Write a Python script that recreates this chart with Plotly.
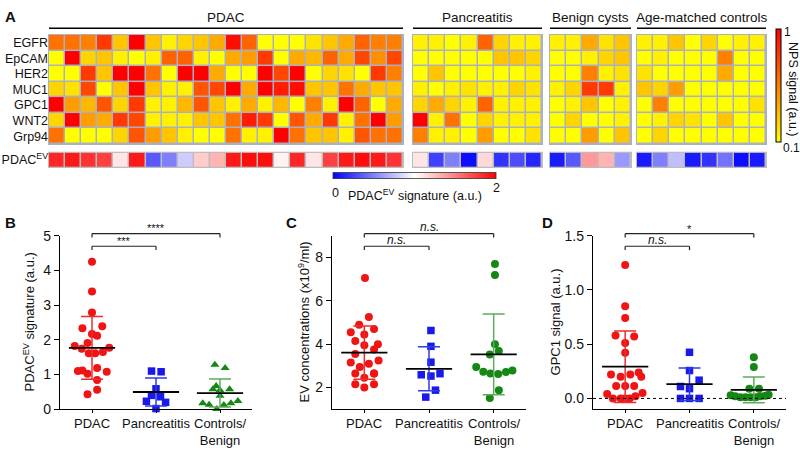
import numpy as np
import plotly.graph_objects as go

W, H = 800, 452
FONT = "Liberation Sans, Arial, sans-serif"

# ---------------- data ----------------
markers = ["EGFR", "EpCAM", "HER2", "MUC1", "GPC1", "WNT2", "Grp94"]
group_names = ["PDAC", "Pancreatitis", "Benign cysts", "Age-matched controls"]

# NPS signal (a.u.), rows = markers, columns = samples
pdac_nps = [
    [0.6, 0.6, 0.55, 0.8, 0.3, 1.0, 0.3, 0.15, 0.25, 0.3, 0.4, 0.95, 0.65, 0.1, 0.1, 0.1, 0.2, 0.3, 0.4, 0.65, 0.55, 0.55],
    [0.1, 1.0, 0.25, 0.3, 0.15, 0.1, 0.15, 0.65, 0.65, 0.15, 0.1, 0.4, 0.45, 0.8, 0.1, 0.4, 0.35, 0.65, 0.4, 0.75, 0.5, 0.75],
    [0.1, 0.1, 0.8, 0.3, 1.0, 1.0, 0.6, 0.1, 1.0, 1.0, 0.4, 0.1, 0.1, 1.0, 0.75, 1.0, 0.1, 0.25, 0.2, 0.1, 0.8, 0.55],
    [0.25, 0.2, 0.75, 0.1, 0.3, 1.0, 0.3, 0.15, 0.15, 0.7, 0.75, 1.0, 0.4, 1.0, 0.9, 0.95, 0.3, 0.3, 0.6, 0.4, 0.3, 0.3],
    [1.0, 0.45, 0.35, 0.7, 0.25, 0.8, 0.15, 0.15, 0.35, 0.7, 0.3, 0.15, 0.4, 0.15, 0.35, 0.1, 0.55, 0.15, 1.0, 0.65, 0.1, 0.4],
    [0.25, 1.0, 0.45, 0.4, 0.8, 0.75, 0.15, 0.15, 0.15, 0.3, 0.3, 0.6, 0.9, 0.8, 0.1, 0.7, 0.4, 0.8, 0.15, 0.6, 1.0, 0.45],
    [0.6, 0.1, 0.1, 0.1, 0.25, 0.7, 0.45, 0.3, 0.15, 0.1, 0.1, 0.6, 0.15, 0.15, 1.0, 0.6, 0.3, 0.3, 0.15, 0.7, 0.6, 0.6],
]
panc_nps = [
    [0.15, 0.15, 0.1, 0.15, 0.65, 0.25, 0.15, 0.15],
    [0.1, 0.1, 0.1, 0.1, 0.1, 0.3, 0.3, 0.25],
    [0.1, 0.3, 0.1, 0.1, 0.1, 0.1, 0.1, 0.15],
    [0.15, 0.1, 0.15, 0.2, 0.15, 0.15, 0.25, 0.2],
    [0.25, 0.4, 0.25, 0.15, 0.65, 0.15, 0.15, 0.15],
    [1.0, 0.15, 0.6, 0.1, 0.25, 0.15, 0.15, 0.15],
    [0.55, 0.15, 0.15, 0.1, 0.45, 0.1, 0.1, 0.2],
]
cyst_nps = [
    [0.15, 0.15, 0.4, 0.2, 0.3],
    [0.1, 0.1, 0.15, 0.25, 0.3],
    [0.1, 0.1, 0.55, 0.15, 0.2],
    [0.15, 0.25, 0.8, 0.8, 0.15],
    [0.1, 0.15, 0.3, 0.1, 0.15],
    [0.1, 0.25, 0.1, 0.1, 0.15],
    [0.1, 0.1, 0.45, 0.1, 0.3],
]
ctrl_nps = [
    [0.15, 0.15, 0.3, 0.1, 0.25, 0.1, 0.15, 0.15],
    [0.1, 0.15, 0.1, 0.1, 0.1, 0.55, 0.1, 0.1],
    [0.2, 0.1, 0.1, 0.1, 0.1, 0.4, 0.1, 0.1],
    [0.3, 0.25, 0.45, 0.1, 0.1, 0.1, 0.1, 0.1],
    [0.1, 0.55, 0.1, 0.1, 0.1, 0.1, 0.1, 0.2],
    [0.1, 0.15, 0.25, 0.2, 0.1, 0.3, 0.1, 0.1],
    [0.1, 0.25, 0.1, 0.1, 0.1, 0.1, 0.1, 0.1],
]
# PDAC-EV signature row (0..2)
pdac_ev = [1.85, 1.9, 1.8, 1.75, 1.1, 1.9, 0.35, 0.5, 0.8, 1.2, 1.3, 1.9, 1.95, 1.95, 1.05, 1.85, 1.1, 1.75, 1.9, 1.95, 1.9, 1.8]
panc_ev = [1.1, 0.25, 0.5, 0.05, 1.15, 0.2, 0.3, 0.15]
cyst_ev = [0.1, 0.35, 1.4, 1.3, 0.6]
ctrl_ev = [0.1, 0.5, 0.75, 0.1, 0.2, 0.45, 0.05, 0.1]

categories = ["PDAC", "Pancreatitis", "Controls/<br>Benign"]

# Panel B: PDAC-EV signature
b_pdac = [4.25, 3.39, 2.79, 2.39, 2.33, 2.17, 2.12, 1.91, 1.82, 1.77, 1.74, 1.65, 1.61, 1.61, 1.19, 1.12, 1.10, 1.08, 1.02, 0.84, 0.56, 0.43]
b_panc = [1.10, 1.08, 0.59, 0.40, 0.36, 0.23, 0.20, 0.02]
b_ctrl = [1.28, 1.19, 0.67, 0.58, 0.58, 0.55, 0.39, 0.17, 0.13, 0.12, 0.17, 0.24, 0.01]
# Panel C: EV concentrations
c_pdac = [7.05, 5.25, 4.9, 4.55, 4.7, 4.45, 4.15, 4.0, 3.95, 3.75, 3.55, 3.25, 3.15, 3.1, 2.95, 2.65, 2.65, 2.45, 2.15, 2.15, 2.0, 2.65]
c_panc = [4.63, 3.9, 3.17, 2.59, 2.53, 2.64, 1.88, 1.56]
c_ctrl = [7.69, 7.19, 4.0, 3.52, 3.68, 2.95, 2.73, 2.65, 2.62, 2.72, 2.79, 1.88, 1.52]
# Panel D: GPC1 signal
d_pdac = [1.23, 0.85, 0.74, 0.58, 0.57, 0.51, 0.42, 0.22, 0.20, 0.22, 0.24, 0.20, 0.115, 0.115, 0.115, 0.04, 0.05, 0.02, 0.0, 0.0, 0.0, 0.0]
d_panc = [0.425, 0.257, 0.168, 0.11, 0.09, 0.0, 0.0, 0.0]
d_ctrl = [0.38, 0.29, 0.09, 0.09, 0.03, 0.02, 0.01, 0.01, 0.01, 0.01, 0.02, 0.025, 0.035]

# horizontal scatter offsets (layout of the dot plots)
jit_b_pdac = [0, 0, 0, 0.16, -0.15, 0, 0.08, -0.07, -0.27, 0.27, -0.16, 0.17, -0.05, 0.05, 0.08, -0.15, -0.22, 0.23, -0.07, 0.08, 0.08, -0.07]
jit_b_panc = [-0.07, 0.08, 0, -0.07, 0.07, -0.15, 0.15, 0]
jit_b_ctrl = [-0.08, 0.08, -0.06, -0.11, 0.15, 0, 0, -0.27, -0.17, 0.06, 0.17, 0.28, -0.05]
jit_c_pdac = [0.01, 0.07, -0.08, -0.21, 0.15, 0, -0.14, 0.21, 0, 0.15, -0.14, 0.22, -0.21, 0.07, -0.07, -0.14, 0.15, 0, -0.14, 0.15, 0, 0.15]
jit_c_panc = [0.03, 0.03, 0.03, -0.12, 0.03, 0.17, 0.10, -0.05]
jit_c_ctrl = [0.02, 0.02, 0.02, -0.06, 0.08, -0.27, -0.16, -0.05, 0.07, 0.19, 0.29, 0.08, -0.06]
jit_d_pdac = [0, 0, 0, -0.15, 0.14, 0, 0, -0.22, -0.07, 0.08, 0.21, 0.25, -0.14, 0, 0.14, -0.28, 0.27, 0.16, -0.19, -0.07, 0.07, 0]
jit_d_panc = [0, 0, 0.15, -0.14, 0, -0.14, 0, 0.15]
jit_d_ctrl = [0, 0, -0.07, 0.08, -0.36, -0.29, -0.21, -0.13, -0.05, 0.03, 0.10, 0.18, 0.23]


def px(x):
    """window pixel x -> paper coordinate"""
    return x / W


def py(y):
    """window pixel y -> paper coordinate"""
    return 1 - y / H


fig = go.Figure()

# ---------------- heatmap (panel A) ----------------
nps_groups = [pdac_nps, panc_nps, cyst_nps, ctrl_nps]
ev_groups = [pdac_ev, panc_ev, cyst_ev, ctrl_ev]
group_px = [(49, 403), (413, 542), (550, 631), (637, 766)]
ROW_TOP, ROW_BOT = 28, 141
EV_TOP, EV_BOT = 150, 165
BORDER = "#aab0c8"
TXT = "#111"

layout_axes = {}
shapes = []
annotations = []

for g, (nps, ev) in enumerate(zip(nps_groups, ev_groups)):
    ax = 4 + g
    n = len(ev)
    fig.add_trace(go.Heatmap(z=nps, x=list(range(n)), y=list(range(len(markers))),
                             xaxis=f"x{ax}", yaxis="y4", coloraxis="coloraxis",
                             xgap=1.5, ygap=1.5, hoverinfo="skip"))
    fig.add_trace(go.Heatmap(z=[ev], x=list(range(n)), y=[0],
                             xaxis=f"x{ax}", yaxis="y5", coloraxis="coloraxis2",
                             xgap=1.5, ygap=0, hoverinfo="skip"))
    x0, x1 = group_px[g]
    layout_axes[f"xaxis{ax}"] = dict(domain=[px(x0), px(x1)], range=[-0.5, n - 0.5],
                                     visible=False, anchor="y4", fixedrange=True)
    shapes.append(dict(type="rect", xref="paper", yref="paper", layer="below",
                       x0=px(x0 - 1), x1=px(x1 + 1), y0=py(ROW_BOT + 1), y1=py(ROW_TOP - 1),
                       fillcolor=BORDER, line=dict(width=0)))
    shapes.append(dict(type="rect", xref="paper", yref="paper", layer="below",
                       x0=px(x0 - 1), x1=px(x1 + 1), y0=py(EV_BOT + 1), y1=py(EV_TOP - 1),
                       fillcolor="#bdbdbd", line=dict(width=0)))
    # header line + label
    shapes.append(dict(type="line", xref="paper", yref="paper",
                       x0=px(x0), x1=px(x1), y0=py(21), y1=py(21),
                       line=dict(color="black", width=1.5)))
    annotations.append(dict(text=group_names[g], xref="paper", yref="paper",
                            x=px((x0 + x1) / 2), y=py(10), showarrow=False,
                            font=dict(size=13.5, color=TXT), xanchor="center", yanchor="middle"))

layout_axes["yaxis4"] = dict(domain=[py(ROW_BOT), py(ROW_TOP)], range=[len(markers) - 0.5, -0.5],
                             anchor="x4", tickvals=list(range(len(markers))), ticktext=markers,
                             ticks="", showline=False, showgrid=False, zeroline=False,
                             tickfont=dict(size=12.5, color=TXT), fixedrange=True)
layout_axes["yaxis5"] = dict(domain=[py(EV_BOT), py(EV_TOP)], range=[-0.5, 0.5],
                             anchor="x4", tickvals=[0], ticktext=["PDAC<sup>EV</sup>"],
                             ticks="", showline=False, showgrid=False, zeroline=False,
                             tickfont=dict(size=12.5, color=TXT), fixedrange=True)

# ---------------- dot plots (panels B, C, D) ----------------
RED, BLUE, GREEN = "rgb(240,20,20)", "rgb(25,25,235)", "rgb(20,135,20)"
EB = ["rgb(235,45,45)", "rgb(45,60,230)", "rgb(95,170,95)"]
colors = [RED, BLUE, GREEN]
sizes = [8, 7.5, 8]

panels = [
    ("x", "y", [b_pdac, b_panc, b_ctrl], [jit_b_pdac, jit_b_panc, jit_b_ctrl], ["circle", "square", "triangle-up"]),
    ("x2", "y2", [c_pdac, c_panc, c_ctrl], [jit_c_pdac, jit_c_panc, jit_c_ctrl], ["circle", "square", "circle"]),
    ("x3", "y3", [d_pdac, d_panc, d_ctrl], [jit_d_pdac, jit_d_panc, jit_d_ctrl], ["circle", "square", "circle"]),
]
for xa, ya, groups, jits, syms in panels:
    for k, (vals, jit) in enumerate(zip(groups, jits)):
        fig.add_trace(go.Scatter(x=k + np.array(jit), y=vals, mode="markers", xaxis=xa, yaxis=ya,
                                 marker=dict(color=colors[k], size=sizes[k], symbol=syms[k], line=dict(width=0)),
                                 hoverinfo="skip", cliponaxis=False))
    for k, vals in enumerate(groups):
        arr = np.array(vals)
        m, sd = arr.mean(), arr.std(ddof=1)
        fig.add_trace(go.Scatter(x=[k], y=[m], mode="markers", xaxis=xa, yaxis=ya,
                                 marker=dict(symbol="line-ew", size=33, color="black",
                                             line=dict(color="black", width=1.8)),
                                 error_y=dict(type="data", array=[sd], color=EB[k], thickness=1.5, width=11),
                                 hoverinfo="skip", cliponaxis=False))

PB, PT = 416, 236
dom_y = [py(PB), py(PT)]
common_x = dict(range=[-0.5, 2.5], tickvals=[0, 1, 2], showticklabels=False, showline=True,
                linecolor="black", linewidth=1.3, ticks="outside", ticklen=3, tickwidth=1.2,
                tickcolor="black", showgrid=False, zeroline=False, fixedrange=True)
common_y = dict(showline=True, linecolor="black", linewidth=1.3, ticks="outside", ticklen=5,
                tickwidth=1.2, tickcolor="black", showgrid=False, zeroline=False, fixedrange=True,
                tickfont=dict(size=14, color=TXT))

layout_axes["xaxis"] = dict(common_x, domain=[px(60), px(252)], anchor="y")
layout_axes["yaxis"] = dict(common_y, domain=dom_y, anchor="x", range=[0, 5], tickvals=[0, 1, 2, 3, 4, 5])
layout_axes["xaxis2"] = dict(common_x, domain=[px(332), px(526)], anchor="y2")
layout_axes["yaxis2"] = dict(common_y, domain=dom_y, anchor="x2", range=[1, 9], tickvals=[2, 4, 6, 8])
layout_axes["xaxis3"] = dict(common_x, domain=[px(593), px(786)], anchor="y3")
layout_axes["yaxis3"] = dict(common_y, domain=dom_y, anchor="x3", range=[-0.1, 1.5],
                             tickvals=[0, 0.5, 1.0, 1.5], ticktext=["0.0", "0.5", "1.0", "1.5"])

# category labels under each dot plot
for xa in ["x", "x2", "x3"]:
    for k, cat in enumerate(categories):
        annotations.append(dict(text=cat, xref=xa, yref="paper", x=k, y=py(421),
                                showarrow=False, font=dict(size=13, color=TXT),
                                xanchor="center", yanchor="top"))

# dotted zero line in D
shapes.append(dict(type="line", xref="x3 domain", yref="y3", x0=0, x1=1, y0=0, y1=0,
                   line=dict(color="black", width=1, dash="dot")))


# significance brackets
def bracket(xref, a, b, ypix, text, tpix, italic):
    for (xx0, xx1, yy0, yy1) in [(a, b, ypix, ypix), (a, a, ypix, ypix + 4), (b, b, ypix, ypix + 4)]:
        shapes.append(dict(type="line", xref=xref, yref="paper", x0=xx0, x1=xx1,
                           y0=py(yy0), y1=py(yy1), line=dict(color="#222", width=1.2)))
    t = f"<i>{text}</i>" if italic else text
    annotations.append(dict(text=t, xref=xref, yref="paper", x=(a + b) / 2, y=py(tpix),
                            showarrow=False, font=dict(size=12 if italic else 11, color=TXT),
                            xanchor="center", yanchor="middle"))


bracket("x", 0, 2, 234, "****", 228, False)
bracket("x", 0, 1, 247, "***", 242, False)
bracket("x2", 0, 2, 234, "n.s.", 227, True)
bracket("x2", 0, 1, 247, "n.s.", 240, True)
bracket("x3", 0, 2, 234, "*", 229, False)
bracket("x3", 0, 1, 247, "n.s.", 240, True)

# y axis titles
for text, xpix in [("PDAC<sup>EV</sup> signature (a.u.)", 29),
                   ("EV concentrations (x10<sup>9</sup>/ml)", 304),
                   ("GPC1 signal (a.u.)", 555)]:
    annotations.append(dict(text=text, xref="paper", yref="paper", x=px(xpix), y=py(326),
                            textangle=-90, showarrow=False, font=dict(size=13, color=TXT),
                            xanchor="center", yanchor="middle"))

# panel letters
for text, xp, yp in [("A", 10, 9), ("B", 10, 222), ("C", 291, 222), ("D", 547, 222)]:
    annotations.append(dict(text=f"<b>{text}</b>", xref="paper", yref="paper", x=px(xp), y=py(yp),
                            showarrow=False, font=dict(size=15, color=TXT),
                            xanchor="center", yanchor="middle"))

# colorbar labels
annotations.append(dict(text="NPS signal (a.u.)", xref="paper", yref="paper", x=px(793), y=py(84),
                        textangle=90, showarrow=False, font=dict(size=12.5, color=TXT),
                        xanchor="center", yanchor="middle"))
annotations.append(dict(text="1", xref="paper", yref="paper", x=px(782), y=py(25),
                        showarrow=False, font=dict(size=12, color=TXT), xanchor="left", yanchor="middle"))
annotations.append(dict(text="0.1", xref="paper", yref="paper", x=px(781), y=py(145),
                        showarrow=False, font=dict(size=12, color=TXT), xanchor="left", yanchor="middle"))
annotations.append(dict(text="0", xref="paper", yref="paper", x=px(335), y=py(192),
                        showarrow=False, font=dict(size=12.5, color=TXT)))
annotations.append(dict(text="2", xref="paper", yref="paper", x=px(496), y=py(187),
                        showarrow=False, font=dict(size=12.5, color=TXT)))
annotations.append(dict(text="PDAC<sup>EV</sup> signature (a.u.)", xref="paper", yref="paper",
                        x=px(415), y=py(194), showarrow=False, font=dict(size=12.5, color=TXT)))

fig.update_layout(
    width=W, height=H, margin=dict(l=0, r=0, t=0, b=0),
    paper_bgcolor="white", plot_bgcolor="rgba(0,0,0,0)",
    font=dict(family=FONT, color=TXT), showlegend=False,
    coloraxis=dict(colorscale=[[0, "#ffff00"], [1, "#ff0000"]], cmin=0.1, cmax=1,
                   colorbar=dict(x=px(776), xanchor="left", xref="paper", xpad=0,
                                 y=py((ROW_TOP + ROW_BOT) / 2 - 4), yanchor="middle", ypad=0,
                                 len=ROW_BOT - ROW_TOP, lenmode="pixels", thickness=5,
                                 outlinewidth=1, outlinecolor="black", ticks="",
                                 showticklabels=False)),
    coloraxis2=dict(colorscale=[[0, "#0000ff"], [0.5, "#ffffff"], [1, "#ff0000"]], cmin=0, cmax=2,
                    colorbar=dict(orientation="h", x=px(414), xanchor="center", xpad=0,
                                  y=py(174), yanchor="middle", ypad=0,
                                  len=163, lenmode="pixels", thickness=6,
                                  outlinewidth=0.8, outlinecolor="#333", ticks="",
                                  showticklabels=False)),
    shapes=shapes, annotations=annotations,
    **layout_axes,
)

# remove the default 8px page margin so the 800x452 figure fills the window
fig.write_html("out.html",
               config={"displayModeBar": False},
               post_script="document.body.style.margin='0';document.body.style.overflow='hidden';")
